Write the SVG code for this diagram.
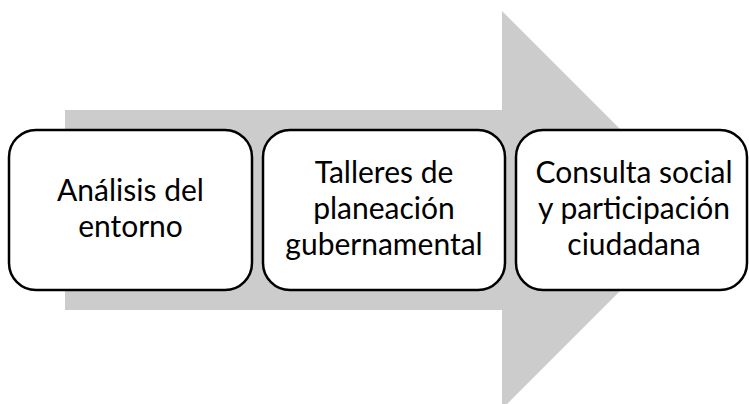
<svg xmlns="http://www.w3.org/2000/svg" width="749" height="404" viewBox="0 0 749 404">
<style>
.box{fill:#fff;stroke:#000;stroke-width:2.5}
.t{font-family:Lato,"Open Sans","Liberation Sans",sans-serif;font-size:30px;fill:#000;text-anchor:middle}
</style>
<rect width="749" height="404" fill="#fff"/>
<g id="arrow">
<polygon points="65,110 502,110 502,11 701,210 502,409 502,310 65,310" fill="#cccccc"/>
</g>
<g id="connectors"></g>
<g id="node1">
<rect class="box" x="9" y="130" width="243" height="160" rx="27"/>
<text class="t" x="130.5" y="201">Análisis del</text>
<text class="t" x="130.5" y="237">entorno</text>
</g>
<g id="node2">
<rect class="box" x="263" y="130" width="242" height="160" rx="27"/>
<text class="t" x="384" y="183">Talleres de</text>
<text class="t" x="384" y="219">planeación</text>
<text class="t" x="384" y="255">gubernamental</text>
</g>
<g id="node3">
<rect class="box" x="516" y="130" width="231" height="160" rx="27"/>
<text class="t" x="634" y="183">Consulta social</text>
<text class="t" x="634" y="219">y participación</text>
<text class="t" x="634" y="255">ciudadana</text>
</g>
</svg>
